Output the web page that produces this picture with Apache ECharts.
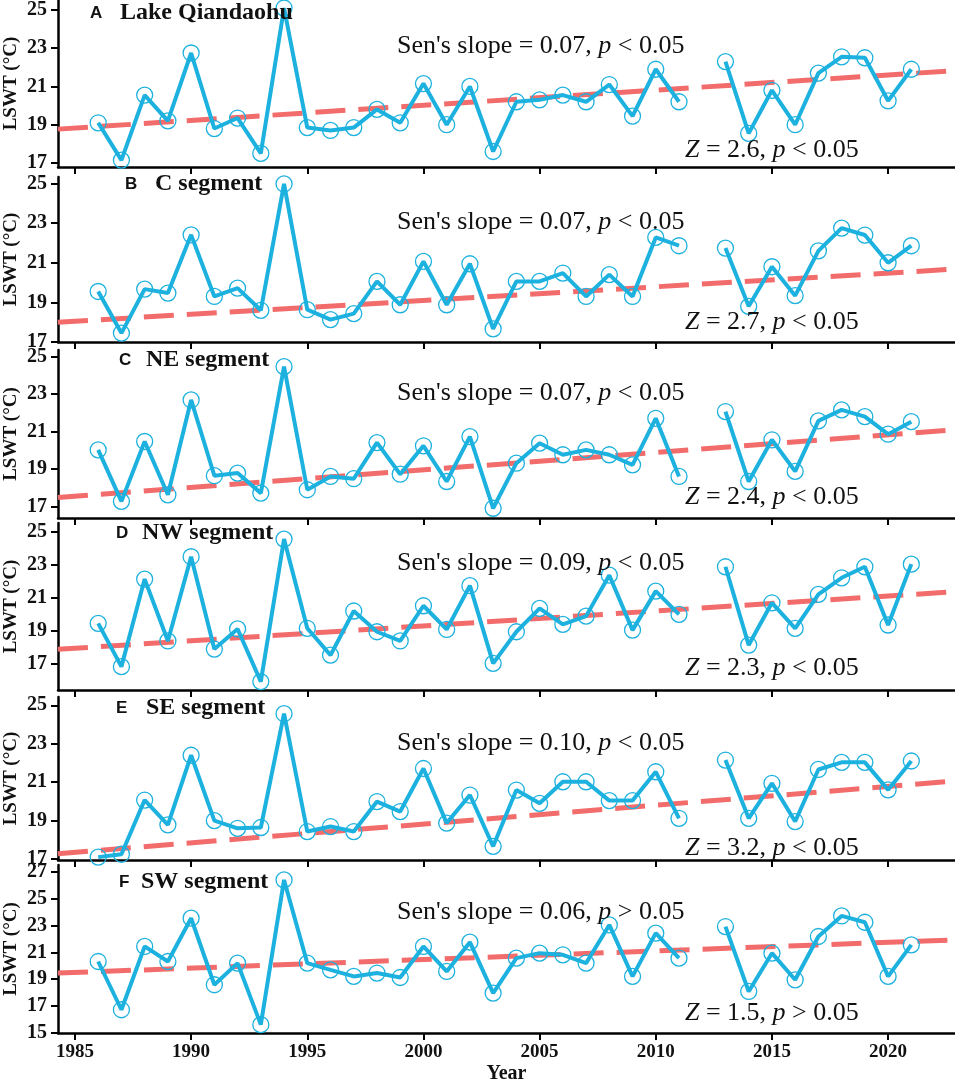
<!DOCTYPE html>
<html>
<head>
<meta charset="utf-8">
<script src="https://cdn.jsdelivr.net/npm/echarts@6/dist/echarts.min.js"></script>
<style>
  html, body { margin: 0; padding: 0; background: #fff; }
  #chart { width: 955px; height: 1082px; }
</style>
</head>
<body>
<div id="chart"></div>
<script>
// years on the x axis (2012 has no value)
const years = [1986, 1987, 1988, 1989, 1990, 1991, 1992, 1993, 1994, 1995, 1996, 1997,
  1998, 1999, 2000, 2001, 2002, 2003, 2004, 2005, 2006, 2007, 2008, 2009, 2010, 2011,
  2012, 2013, 2014, 2015, 2016, 2017, 2018, 2019, 2020, 2021];

// LSWT (°C) per panel
const lakeQiandaohu = [19.1, 17.15, 20.55, 19.2, 22.75, 18.8, 19.35, 17.5, 25.1, 18.85, 18.7, 18.85,
  19.8, 19.1, 21.15, 19.0, 21.0, 17.6, 20.2, 20.3, 20.55, 20.2, 21.1, 19.45, 21.9, 20.2,
  null, 22.3, 18.55, 20.8, 19.0, 21.7, 22.55, 22.5, 20.25, 21.9];
const cSegment = [19.55, 17.45, 19.67, 19.47, 22.41, 19.3, 19.72, 18.6, 24.98, 18.63, 18.13, 18.43,
  20.06, 18.88, 21.07, 18.88, 20.95, 17.66, 20.06, 20.06, 20.48, 19.3, 20.4, 19.3, 22.28, 21.86,
  null, 21.74, 18.8, 20.8, 19.34, 21.6, 22.75, 22.4, 21.0, 21.86];
const neSegment = [20.02, 17.27, 20.47, 17.62, 22.69, 18.64, 18.78, 17.71, 24.47, 17.89, 18.6, 18.48,
  20.41, 18.72, 20.24, 18.33, 20.73, 16.9, 19.31, 20.38, 19.76, 20.02, 19.76, 19.22, 21.71, 18.6,
  null, 22.07, 18.33, 20.56, 18.87, 21.57, 22.16, 21.8, 20.86, 21.53];
const nwSegment = [19.43, 16.8, 22.12, 18.36, 23.48, 17.87, 19.09, 15.89, 24.55, 19.13, 17.5, 20.18,
  18.92, 18.36, 20.5, 19.06, 21.72, 17.0, 18.92, 20.34, 19.37, 19.87, 22.36, 19.02, 21.39, 19.98,
  null, 22.87, 18.11, 20.68, 19.13, 21.19, 22.2, 22.87, 19.33, 23.03];
const seSegment = [17.1, 17.25, 20.07, 18.78, 22.4, 19.0, 18.6, 18.64, 24.56, 18.43, 18.69, 18.43,
  19.99, 19.47, 21.71, 18.87, 20.33, 17.66, 20.59, 19.9, 21.02, 21.02, 20.04, 20.04, 21.54, 19.12,
  null, 22.15, 19.12, 20.94, 18.95, 21.66, 22.03, 22.03, 20.6, 22.1];
const swSegment = [20.32, 16.73, 21.44, 20.32, 23.54, 18.59, 20.2, 15.62, 26.39, 20.2, 19.7, 19.21,
  19.46, 19.13, 21.44, 19.58, 21.76, 17.97, 20.57, 20.94, 20.82, 20.2, 23.04, 19.21, 22.43, 20.57,
  null, 22.92, 18.09, 20.94, 18.96, 22.18, 23.71, 23.24, 19.21, 21.56];

// Sen's trend line: value at left edge and right edge of the axis
const trendStart = [18.77, 18.0, 17.48, 17.85, 17.28, 19.46];
const trendEnd = [21.83, 20.68, 21.09, 21.35, 21.06, 21.93];

// panel texts
const panelLetters = ['A', 'B', 'C', 'D', 'E', 'F'];
const panelNames = ['Lake Qiandaohu', 'C segment', 'NE segment', 'NW segment', 'SE segment', 'SW segment'];
const senSlope = ['0.07', '0.07', '0.07', '0.09', '0.10', '0.06'];
const senSign = ['<', '<', '<', '<', '<', '>'];
const zValue = ['2.6', '2.7', '2.4', '2.3', '3.2', '1.5'];
const zSign = ['<', '<', '<', '<', '<', '>'];
const yName = 'LSWT (°C)';

// tick labels
const xTicks = [1985, 1990, 1995, 2000, 2005, 2010, 2015, 2020];
const yTicks = [
  [17, 19, 21, 23, 25],
  [17, 19, 21, 23, 25],
  [17, 19, 21, 23, 25],
  [17, 19, 21, 23, 25],
  [17, 19, 21, 23, 25],
  [15, 17, 19, 21, 23, 25, 27]
];

const panelValues = [lakeQiandaohu, cSegment, neSegment, nwSegment, seSegment, swSegment];

// layout (px) and axis ranges
const X_MIN = 1984.27, X_MAX = 2022.88;
const gridTop = [0, 177, 350, 523, 697, 865];
const gridHeight = [167, 165, 168, 167, 163, 168];
const yMin = [16.79, 17.0, 16.38, 15.38, 16.95, 15.0];
const yMax = [25.52, 25.33, 25.36, 25.53, 25.43, 27.5];
const letterPos = [[90, 5], [125, 176], [119, 352], [116, 525], [116, 700], [119, 874]];
const namePos = [[120, 1], [155, 172], [146, 348], [142, 521], [146, 696], [141, 870]];
const senTop = [33, 209, 380, 550, 730, 899];
const zTop = [137, 309, 484, 655, 835, 1000];

const BLUE = '#1cb1de';
const RED = '#f26c6c';
const SERIF = 'Liberation Serif, Times New Roman, serif';
const SANS = 'Liberation Sans, Arial, sans-serif';

const chart = echarts.init(document.getElementById('chart'));

const grids = [], xAxes = [], yAxes = [], series = [], titles = [], graphics = [];

const plainRich = {
  n: { fontFamily: SERIF, fontSize: 26, lineHeight: 26, fontWeight: 'normal', color: '#111' },
  i: { fontFamily: SERIF, fontSize: 26, lineHeight: 26, fontWeight: 'normal', fontStyle: 'italic', color: '#111' }
};

panelValues.forEach((vals, i) => {
  grids.push({
    left: 58, right: 0, top: gridTop[i], height: gridHeight[i],
    containLabel: false,
    outerBoundsMode: 'none'
  });

  xAxes.push({
    type: 'value',
    gridIndex: i,
    min: X_MIN,
    max: X_MAX,
    axisLine: { onZero: false, lineStyle: { color: '#000', width: 2.5 } },
    axisTick: { show: true, length: 7, customValues: xTicks, lineStyle: { color: '#000', width: 2 } },
    axisLabel: {
      show: i === 5,
      customValues: xTicks,
      formatter: v => String(v),
      margin: 10,
      fontFamily: SERIF,
      fontWeight: 'bold',
      fontSize: 19,
      color: '#111'
    },
    splitLine: { show: false },
    name: i === 5 ? 'Year' : '',
    nameLocation: 'middle',
    nameGap: 31,
    nameTextStyle: { fontFamily: SERIF, fontWeight: 'bold', fontSize: 20, color: '#111' }
  });

  yAxes.push({
    type: 'value',
    gridIndex: i,
    min: yMin[i],
    max: yMax[i],
    axisLine: { show: true, onZero: false, lineStyle: { color: '#000', width: 2.5 } },
    axisTick: { show: true, length: 7, customValues: yTicks[i], lineStyle: { color: '#000', width: 2 } },
    axisLabel: {
      customValues: yTicks[i],
      formatter: v => String(v),
      margin: 11,
      fontFamily: SERIF,
      fontWeight: 'bold',
      fontSize: 20,
      color: '#111'
    },
    splitLine: { show: false }
  });

  // rotated y-axis title, centred on the panel
  graphics.push({
    type: 'text',
    x: 11,
    y: gridTop[i] + gridHeight[i] / 2,
    rotation: Math.PI / 2,
    style: {
      text: yName,
      align: 'center',
      verticalAlign: 'middle',
      font: 'bold 19px ' + SERIF,
      fill: '#111'
    }
  });

  series.push({
    type: 'line',
    xAxisIndex: i,
    yAxisIndex: i,
    data: [[X_MIN, trendStart[i]], [X_MAX, trendEnd[i]]],
    symbol: 'none',
    silent: true,
    lineStyle: { color: RED, width: 5, type: [30, 13] },
    z: 2
  });

  series.push({
    type: 'line',
    xAxisIndex: i,
    yAxisIndex: i,
    data: years.map((y, k) => [y, vals[k] === null ? '-' : vals[k]]),
    connectNulls: false,
    symbol: 'circle',
    symbolSize: 16,
    itemStyle: { color: 'rgba(0,0,0,0)', borderColor: BLUE, borderWidth: 1.3 },
    lineStyle: { color: BLUE, width: 4 },
    emphasis: { disabled: true },
    z: 3
  });

  titles.push({
    text: panelLetters[i],
    left: letterPos[i][0],
    top: letterPos[i][1],
    padding: 0,
    textStyle: { fontFamily: SANS, fontWeight: 'bold', fontSize: 17, lineHeight: 17, color: '#111' }
  });
  titles.push({
    text: panelNames[i],
    left: namePos[i][0],
    top: namePos[i][1],
    padding: 0,
    textStyle: { fontFamily: SERIF, fontWeight: 'bold', fontSize: 24, lineHeight: 24, color: '#111' }
  });
  titles.push({
    text: "{n|Sen's slope = " + senSlope[i] + ', }{i|p}{n| ' + senSign[i] + ' 0.05}',
    left: 397,
    top: senTop[i],
    padding: 0,
    textStyle: { fontWeight: 'normal', rich: plainRich }
  });
  titles.push({
    text: '{i|Z}{n| = ' + zValue[i] + ', }{i|p}{n| ' + zSign[i] + ' 0.05}',
    left: 685,
    top: zTop[i],
    padding: 0,
    textStyle: { fontWeight: 'normal', rich: plainRich }
  });
});

const option = {
  animation: false,
  backgroundColor: '#fff',
  title: titles,
  grid: grids,
  xAxis: xAxes,
  yAxis: yAxes,
  graphic: graphics,
  series: series
};

option && chart.setOption(option);
</script>
</body>
</html>
